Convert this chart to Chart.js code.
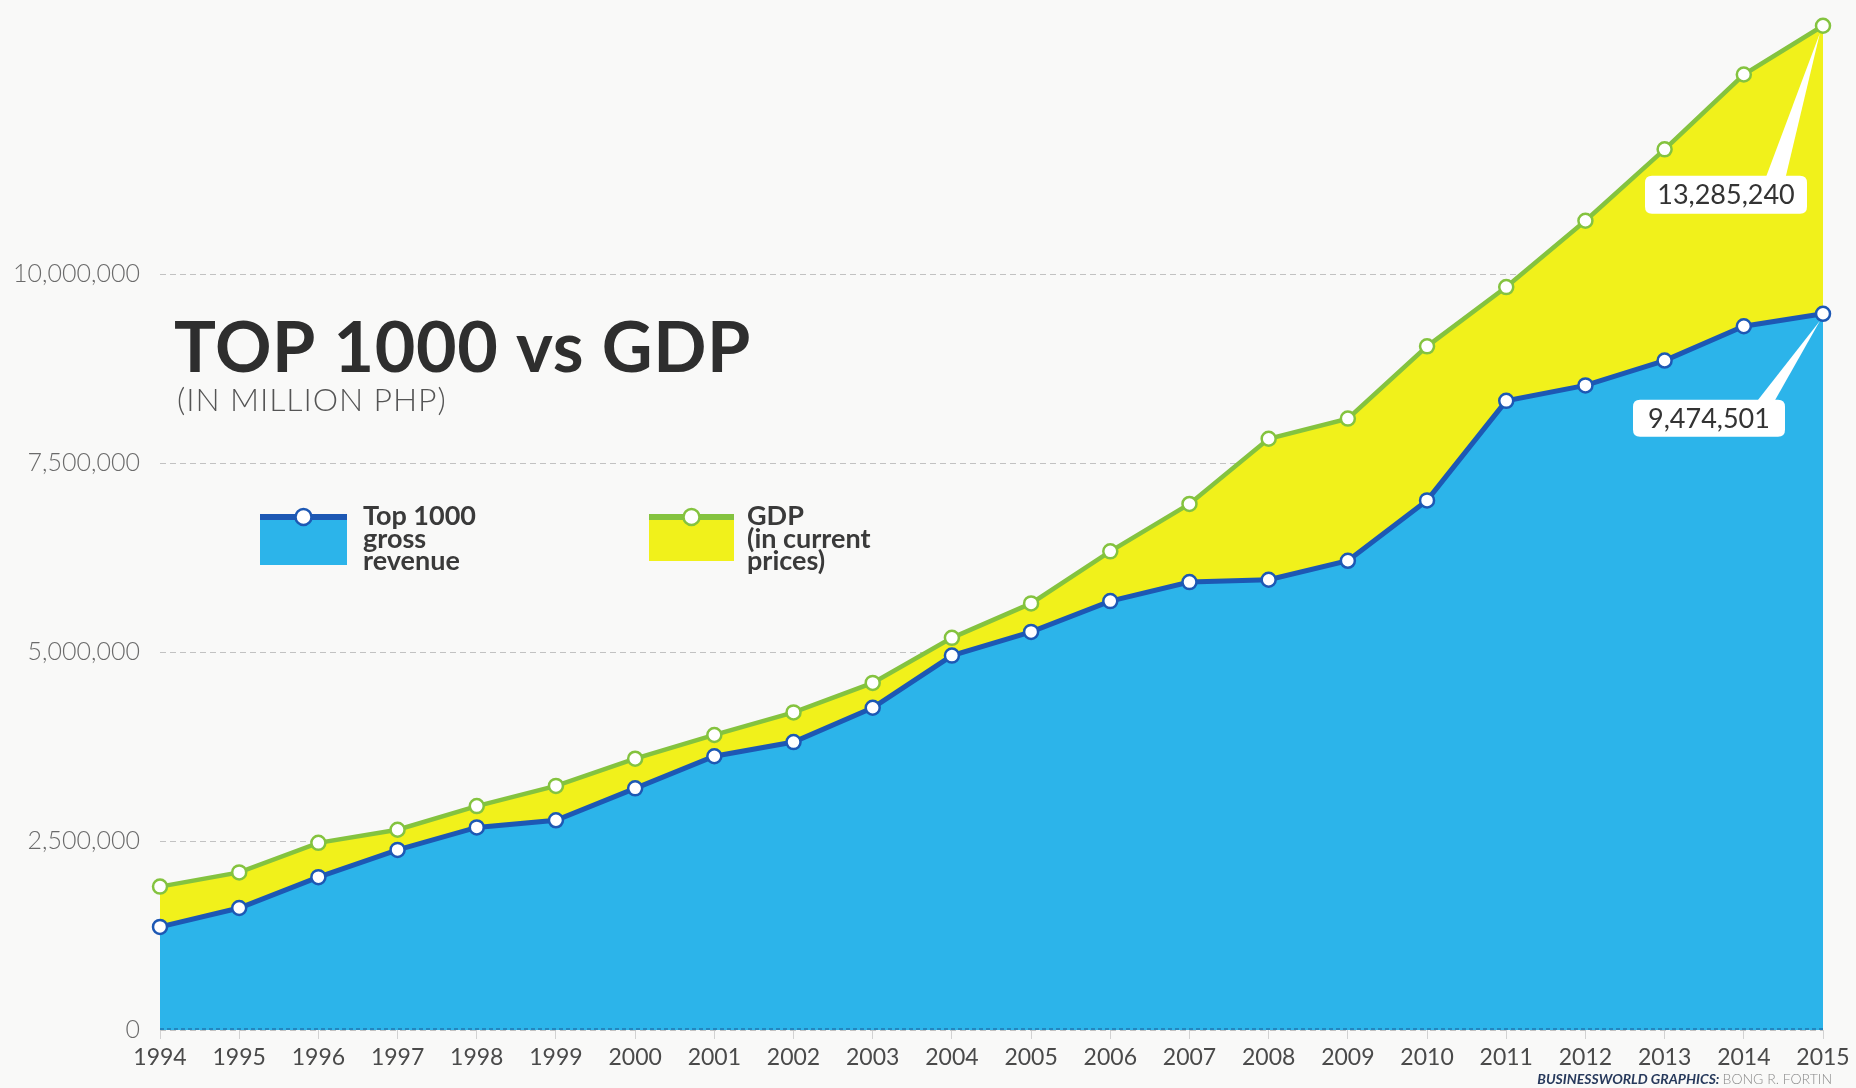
<!DOCTYPE html>
<html>
<head>
<meta charset="utf-8">
<title>TOP 1000 vs GDP</title>
<script src="https://cdn.jsdelivr.net/npm/chart.js@4.4.1/dist/chart.umd.min.js"></script>
<style>
  html, body { margin: 0; padding: 0; background: #f9f9f8; }
  #wrap { position: relative; width: 1856px; height: 1088px; overflow: hidden; }
  #chart { position: absolute; left: 0; top: 0; }
</style>
</head>
<body>
<div id="wrap"><canvas id="chart" width="1856" height="1088"></canvas></div>
<script>
// Years on the horizontal axis
const years = ['1994', '1995', '1996', '1997', '1998', '1999', '2000', '2001', '2002', '2003', '2004',
               '2005', '2006', '2007', '2008', '2009', '2010', '2011', '2012', '2013', '2014', '2015'];

// Top 1000 corporations, gross revenue (million PHP)
const top1000Revenue = [1364000, 1614000, 2022000, 2382000, 2680000, 2774000, 3197000, 3621000,
                        3809000, 4263000, 4953000, 5266000, 5674000, 5925000, 5956000, 6207000,
                        7006000, 8323000, 8527000, 8856000, 9310000, 9474501];

// Gross domestic product in current prices (million PHP)
const gdpCurrentPrices = [1897000, 2085000, 2476000, 2649000, 2962000, 3229000, 3589000, 3903000,
                          4201000, 4592000, 5188000, 5643000, 6332000, 6959000, 7821000, 8088000,
                          9044000, 9828000, 10705000, 11650000, 12640000, 13285240];

// Labelled values on the value axis
const yTickValues = [0, 2500000, 5000000, 7500000, 10000000];

const BLUE_LINE = '#1d58b4';
const BLUE_FILL = '#2cb4ea';
const GREEN_LINE = '#84c33f';
const YELLOW_FILL = '#f1f11b';

// Callout boxes for the final value of each series (offsets from the last point)
const calloutStyle = [
  { dx: -114, dy: 86, w: 152, h: 37, baseL: -68, baseR: -50 },
  { dx: -97, dy: 150, w: 162, h: 38, baseL: -58, baseR: -38 }
];

function roundRect(ctx, x, y, w, h, r) {
  ctx.beginPath();
  ctx.moveTo(x + r, y);
  ctx.lineTo(x + w - r, y);
  ctx.quadraticCurveTo(x + w, y, x + w, y + r);
  ctx.lineTo(x + w, y + h - r);
  ctx.quadraticCurveTo(x + w, y + h, x + w - r, y + h);
  ctx.lineTo(x + r, y + h);
  ctx.quadraticCurveTo(x, y + h, x, y + h - r);
  ctx.lineTo(x, y + r);
  ctx.quadraticCurveTo(x, y, x + r, y);
  ctx.closePath();
}

// Title, subtitle, legend and credit line
const headerPlugin = {
  id: 'header',
  afterDraw(chart) {
    const ctx = chart.ctx;
    ctx.save();
    ctx.textAlign = 'left';
    ctx.textBaseline = 'alphabetic';
    ctx.fillStyle = '#2e2e2e';
    ctx.font = '700 70px Lato, "Liberation Sans", sans-serif';
    ctx.letterSpacing = '0.6px';
    ctx.fillText('TOP 1000 vs GDP', 174, 372);
    ctx.fillStyle = '#555';
    ctx.font = '300 32px Lato, "Liberation Sans", sans-serif';
    ctx.letterSpacing = '0.9px';
    ctx.fillText('(IN MILLION PHP)', 177, 411);
    ctx.letterSpacing = '0px';

    const ds = chart.data.datasets;
    const items = [
      { x: 260, w: 87, h: 51, lines: ['Top 1000', 'gross', 'revenue'], tx: 363, d: ds[0] },
      { x: 649, w: 85, h: 47, lines: ['GDP', '(in current', 'prices)'], tx: 747, d: ds[1] }
    ];
    items.forEach(it => {
      const top = 514;
      ctx.fillStyle = it.d.backgroundColor;
      ctx.fillRect(it.x, top, it.w, it.h);
      ctx.fillStyle = it.d.borderColor;
      ctx.fillRect(it.x, top, it.w, 6);
      ctx.beginPath();
      ctx.arc(it.x + it.w / 2, top + 3, 8, 0, Math.PI * 2);
      ctx.fillStyle = '#fff';
      ctx.fill();
      ctx.lineWidth = 2.5;
      ctx.strokeStyle = it.d.borderColor;
      ctx.stroke();
      ctx.fillStyle = '#3a3a3a';
      ctx.font = '700 27px Lato, "Liberation Sans", sans-serif';
      it.lines.forEach((ln, k) => ctx.fillText(ln, it.tx, 525 + k * 22.5));
    });

    ctx.textAlign = 'right';
    ctx.font = '300 14px Lato, "Liberation Sans", sans-serif';
    const who = 'BONG R. FORTIN';
    const whoW = ctx.measureText(who).width;
    ctx.fillStyle = '#8a8a8a';
    ctx.fillText(who, 1832, 1084);
    ctx.font = 'italic 700 14px Lato, "Liberation Sans", sans-serif';
    ctx.fillStyle = '#283a5c';
    ctx.fillText('BUSINESSWORLD GRAPHICS: ', 1832 - whoW, 1084);
    ctx.restore();
  }
};

// Dashed base line along the zero level, drawn over the filled areas
const baselinePlugin = {
  id: 'dashedBase',
  afterDatasetsDraw(chart) {
    const { ctx, chartArea } = chart;
    const y = chart.scales.y.getPixelForValue(0) - 1;
    ctx.save();
    ctx.strokeStyle = 'rgba(25,70,130,0.55)';
    ctx.lineWidth = 1.5;
    ctx.setLineDash([4, 3]);
    ctx.beginPath();
    ctx.moveTo(chartArea.left, y);
    ctx.lineTo(chartArea.right, y);
    ctx.stroke();
    ctx.restore();
  }
};

// Value callouts for the last point of each series
const calloutPlugin = {
  id: 'endCallouts',
  afterDatasetsDraw(chart) {
    const ctx = chart.ctx;
    chart.data.datasets.forEach((ds, i) => {
      const meta = chart.getDatasetMeta(i);
      const pt = meta.data[meta.data.length - 1];
      const value = ds.data[ds.data.length - 1];
      const c = calloutStyle[i];
      const bx = pt.x + c.dx - c.w / 2;
      const by = pt.y + c.dy;
      ctx.save();
      ctx.fillStyle = '#ffffff';
      ctx.beginPath();
      ctx.moveTo(pt.x - 3, pt.y + 7);
      ctx.lineTo(pt.x + c.baseR, by + 4);
      ctx.lineTo(pt.x + c.baseL, by + 4);
      ctx.closePath();
      ctx.fill();
      roundRect(ctx, bx, by, c.w, c.h, 7);
      ctx.fill();
      ctx.fillStyle = '#333';
      ctx.font = '400 27px Lato, "Liberation Sans", sans-serif';
      ctx.textAlign = 'center';
      ctx.textBaseline = 'middle';
      ctx.fillText(value.toLocaleString('en-US'), bx + c.w / 2, by + c.h / 2 + 1);
      ctx.restore();
    });
  }
};

function build() {
  new Chart(document.getElementById('chart'), {
    type: 'line',
    data: {
      labels: years,
      datasets: [
        {
          label: 'Top 1000 gross revenue',
          data: top1000Revenue,
          borderColor: BLUE_LINE,
          backgroundColor: BLUE_FILL,
          borderWidth: 5,
          fill: 'origin',
          tension: 0,
          pointRadius: 7,
          pointBorderWidth: 2.5,
          pointBackgroundColor: '#ffffff',
          pointBorderColor: BLUE_LINE,
          clip: false
        },
        {
          label: 'GDP (in current prices)',
          data: gdpCurrentPrices,
          borderColor: GREEN_LINE,
          backgroundColor: YELLOW_FILL,
          borderWidth: 4.5,
          fill: '-1',
          tension: 0,
          pointRadius: 7,
          pointBorderWidth: 2.5,
          pointBackgroundColor: '#ffffff',
          pointBorderColor: GREEN_LINE,
          clip: false
        }
      ]
    },
    options: {
      responsive: false,
      animation: false,
      devicePixelRatio: 1,
      layout: { padding: { top: 8, right: 33, left: 0, bottom: 0 } },
      plugins: {
        legend: { display: false },
        tooltip: { enabled: false },
        title: { display: false }
      },
      scales: {
        x: {
          z: 1,
          offset: false,
          grid: { drawOnChartArea: false, drawTicks: true, tickLength: 9, color: '#d2d2d2' },
          border: { display: false },
          ticks: {
            color: '#4a4a4a',
            font: { family: 'Lato, "Liberation Sans", sans-serif', size: 23 },
            padding: 5,
            maxRotation: 0,
            autoSkip: false
          },
          afterFit(s) { s.height = 58; s.paddingLeft = 0; s.paddingRight = 0; }
        },
        y: {
          min: 0,
          max: 13500000,
          afterBuildTicks(s) { s.ticks = yTickValues.map(v => ({ value: v })); },
          grid: { color: '#c2c2c2', lineWidth: 1, drawTicks: false },
          border: { display: false, dash: [6, 4] },
          ticks: {
            padding: 20,
            color: '#6b6b6b',
            font: { family: 'Lato, "Liberation Sans", sans-serif', size: 25, weight: 300 },
            callback: v => Number(v).toLocaleString('en-US')
          },
          afterFit(s) { s.width = 160; s.paddingTop = 0; s.paddingBottom = 0; }
        }
      }
    },
    plugins: [baselinePlugin, calloutPlugin, headerPlugin]
  });
}

const fontLoads = [
  '700 70px Lato', '300 32px Lato', '400 24px Lato', 'italic 700 14px Lato'
].map(f => document.fonts.load(f).catch(() => null));
Promise.all(fontLoads).then(build, build);
</script>
</body>
</html>
